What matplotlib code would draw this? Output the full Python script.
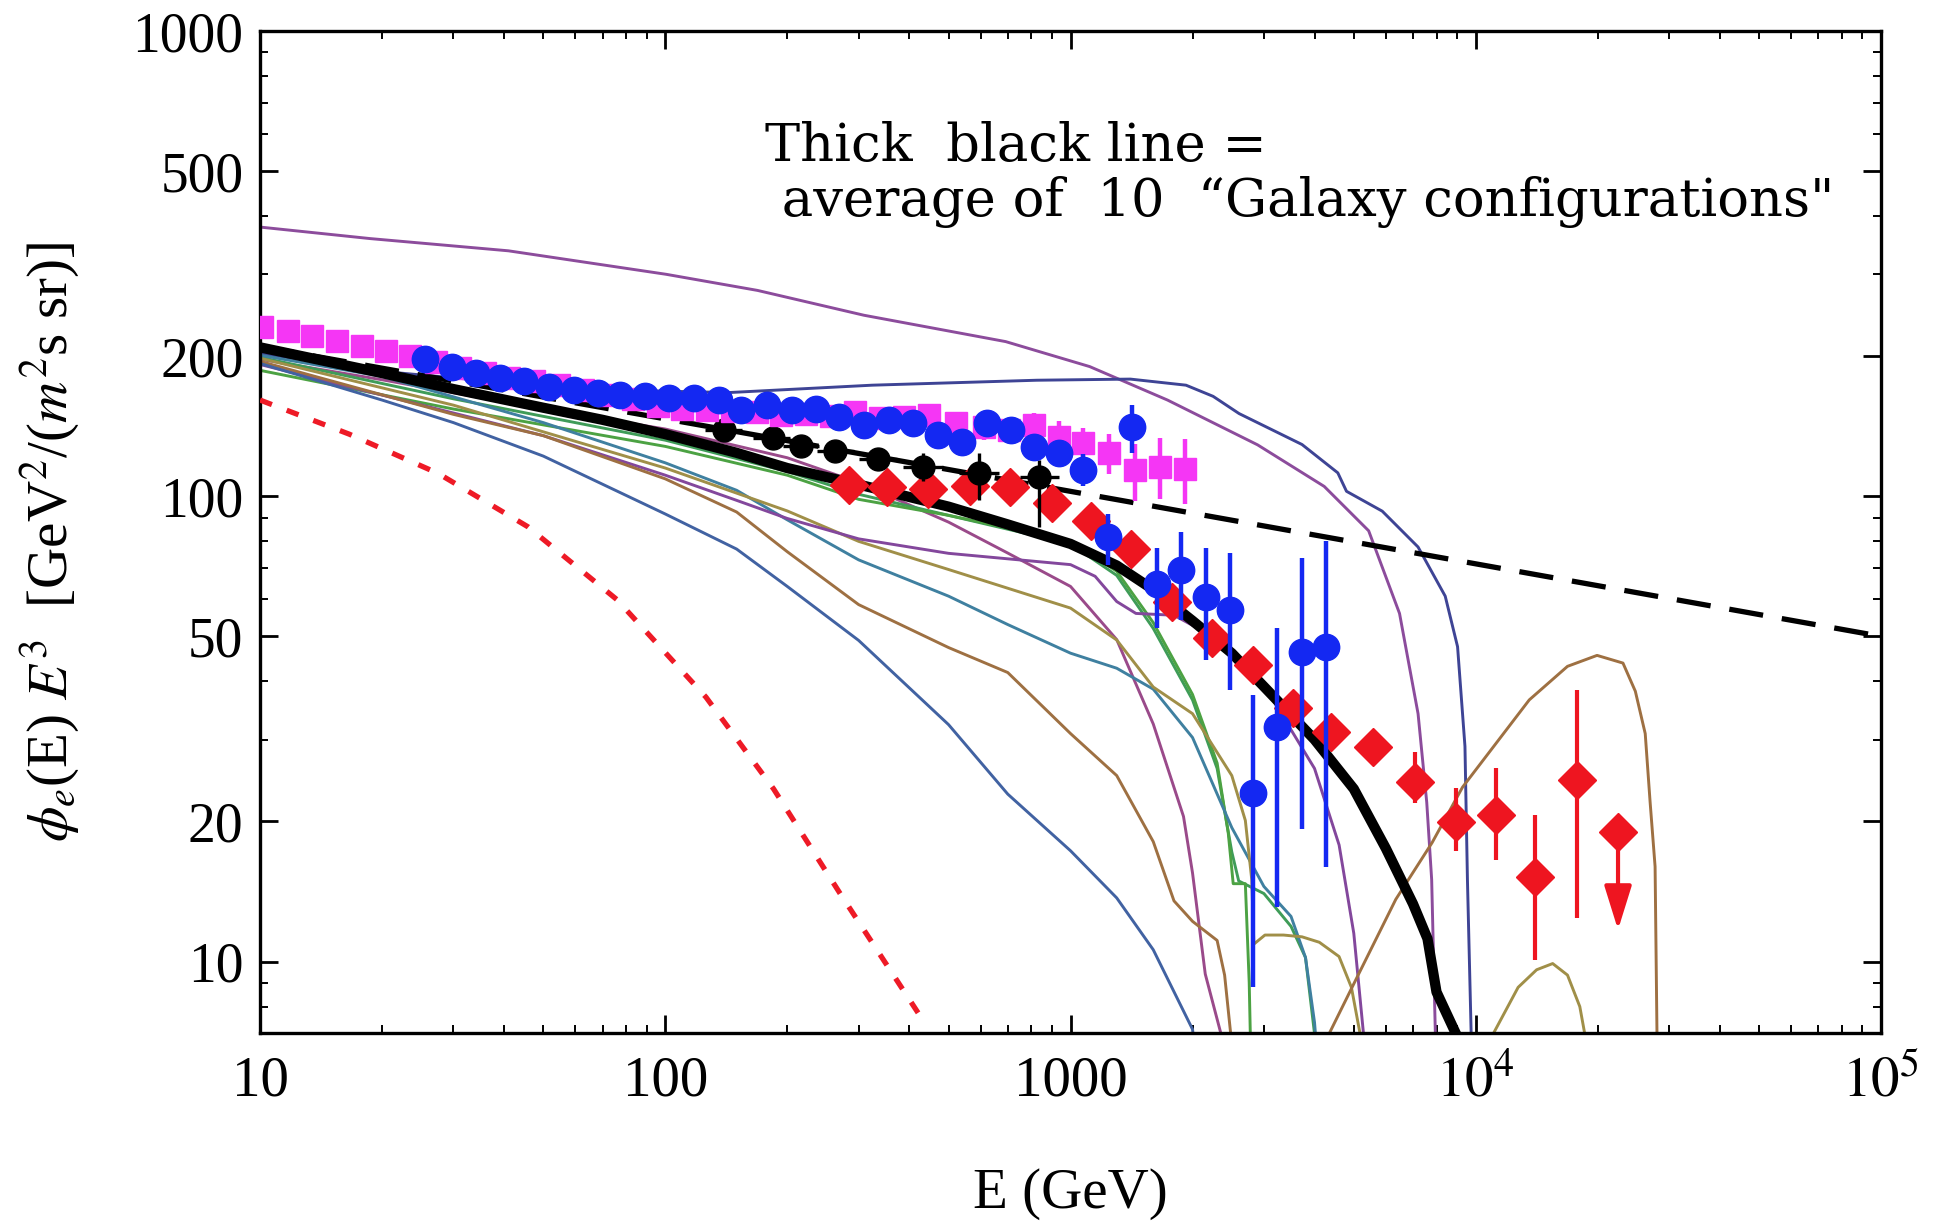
import numpy as np
import matplotlib
matplotlib.use("Agg")
import matplotlib.pyplot as plt
from matplotlib.ticker import FixedLocator, FixedFormatter, NullFormatter

plt.rcParams["font.family"] = "serif"
plt.rcParams["font.serif"] = ["Liberation Serif", "DejaVu Serif"]
plt.rcParams["mathtext.fontset"] = "stix"

nan = np.nan

# ---------------- data ----------------
# power-law reference (thick dashed black)
dash_E = [10, 1e5]
dash_F = [210, 50]

# red dotted curve
reddot_E = [10, 16.6, 27.5, 45.8, 75.9, 126, 185, 270, 427]
reddot_F = [161, 136, 112, 86, 60, 37, 23.5, 14, 7.6]

# average of the 10 galaxy configurations (thick black)
avg_E = [10, 20, 30, 50, 70, 100, 150, 200, 300, 500, 700, 1000, 1300, 1600, 2000,
         2500, 3000, 4000, 5000, 6000, 7000, 7600, 8000, 9000, 9500]
avg_F = [209, 184, 170, 155, 146, 136, 124, 115, 106, 95, 87, 79, 71, 63, 54,
         46, 39, 30, 23.5, 17.5, 13.3, 11.2, 8.6, 6.9, 6.0]

# ten individual galaxy configurations (thin lines)
top_purple_E = [10, 18.7, 41.0, 100.5, 168.9, 309, 692, 1115, 1735, 2894, 4227, 5441,
                6484, 7204, 7568, 7783, 7948, 8060]
top_purple_F = [379, 358, 337, 300, 277, 245, 215, 190, 161, 129, 105, 84.3,
                56.0, 34.1, 22.0, 15.0, 7.0, 5.7]

navy_E = [10, 18.7, 34.9, 75.9, 143.8, 324, 825, 1405, 1927, 2248, 2605, 3726, 4566,
          4797, 5878, 7204, 8406, 9017, 9404, 9537, 9741, 9882]
navy_F = [203, 186.5, 177.6, 169.1, 167.1, 173.3, 177.6, 178.6, 173.3, 164, 150.6, 129.2,
          112.3, 102.5, 92.9, 77.8, 61.0, 47.5, 29.0, 15.0, 7.0, 5.7]

green1_E = [10, 30, 100, 200, 300, 500, 1000, 1300, 1600, 2000, 2300, 2450, 2520,
            2700, 2760, 2800]
green1_F = [186.5, 154, 128, 111, 98.5, 91, 80, 69, 53.5, 37.5, 26.7, 18.9, 14.7,
            14.7, 9, 5]

green2_E = [10, 30, 100, 200, 300, 500, 1000, 1300, 1600, 2000, 2300, 2500, 2600,
            3000, 3500, 3800, 4000, 4100]
green2_F = [199, 162, 132, 113, 101, 91, 79, 67.6, 52, 36.5, 26, 17.2, 14.9,
            14.0, 11.9, 10.2, 7.0, 5]

teal_E = [10, 20, 50, 100, 150, 200, 300, 500, 700, 1000, 1300, 1600, 2000, 2500,
          3000, 3500, 3800, 4000, 4150]
teal_F = [201, 181, 144, 118, 103, 89, 73, 61, 53, 46, 42.7, 38.5, 30.3, 19.4,
          14.5, 12.5, 10.2, 7.4, 5]

olive_E = [10, 30, 100, 200, 300, 500, 1000, 1300, 1600, 2000, 2500, 2700, 2800, 2834,
           3018, 3354, 3726, 4111, 4598, 4933, 5181, 5291, nan,
           10670, 11050, 12720, 14130, 15480, 16840, 18060, 18570, 18840]
olive_F = [198, 157, 115, 93, 80, 69.6, 57.5, 49.1, 38.9, 34.1, 25.1, 20.1, 15.0, 10.9,
           11.4, 11.4, 11.3, 11.0, 10.25, 8.8, 7.0, 5.7, nan,
           5.7, 7.0, 8.8, 9.6, 9.9, 9.35, 8.0, 7.0, 5.7]

brown_E = [10, 30, 50, 100, 150, 200, 300, 500, 700, 1000, 1300, 1600, 1800, 2000,
           2300, 2400, 2530, nan,
           4257, 4348, 5109, 6347, 7800, 9275, 13550, 16840, 19920, 23080, 24760,
           26190, 26930, 27700, 28000, 28100]
brown_F = [195, 150, 135, 109, 92.5, 76, 58.5, 47.3, 41.8, 30.9, 25.1, 18.1, 13.5, 12.2,
           11.1, 9.35, 6.0, nan,
           5.7, 7.0, 9.3, 13.6, 18.0, 23.7, 36.5, 43.1, 45.5, 43.8, 38.1,
           30.9, 22.0, 16.0, 7.0, 5.7]

steel_E = [10, 20, 30, 50, 100, 150, 200, 300, 500, 700, 1000, 1300, 1600, 2000, 2100]
steel_F = [193, 161, 144, 122, 91.6, 77, 64, 49, 32.3, 22.9, 17.3, 13.7, 10.6, 7.15, 5]

purple_a_E = [10, 30, 50, 100, 150, 200, 300, 500, 1000, 1150, 1300, 1450, 1800, 2300,
              3000, 4000, 4600, 5000, 5300, 5400]
purple_a_F = [192, 151, 135, 111, 98, 89.6, 81, 75.4, 71.3, 67.3, 59.4, 56, 55.5, 49.4,
              39.3, 26, 17.8, 11.5, 6.8, 5]

purple_b_E = [10, 20, 50, 100, 200, 300, 500, 700, 1000, 1300, 1600, 1900, 2000, 2150,
              2350, 2420]
purple_b_F = [197, 178, 154, 139.5, 121, 107, 88, 75.5, 64, 49.2, 32.4, 20.5, 15.5, 9.4,
              7.0, 5]

# magenta squares
mag_E = [10.1, 11.7, 13.4, 15.5, 17.8, 20.5, 23.5, 27.1, 31.2, 35.9, 41.2, 47.5, 54.6,
         62.8, 72.3, 83.2, 95.7, 110, 127, 146, 168, 193, 222, 256, 294, 338, 389, 448,
         523, 610, 706, 812, 934, 1075, 1245, 1445, 1663, 1913]
mag_F = [230.9, 226.6, 221.2, 215.8, 210.7, 205.6, 200.6, 194.6, 188.7, 184.2, 179.7,
         176.5, 173.3, 169.1, 165.0, 162.0, 156.2, 154.3, 153.4, 152.4, 151.5, 149.6,
         150.6, 148.8, 151.5, 147.0, 147.9, 149.6, 143.4, 140.8, 139.1, 142.5, 134.1,
         130.0, 123.8, 113.7, 115.8, 114.4]
mag_relerr = [0.03, 0.03, 0.03, 0.03, 0.03, 0.03, 0.03, 0.03, 0.03, 0.03, 0.03, 0.03,
              0.03, 0.03, 0.03, 0.03, 0.03, 0.03, 0.03, 0.03, 0.03, 0.03, 0.04, 0.04,
              0.04, 0.04, 0.04, 0.04, 0.06, 0.06, 0.06, 0.06, 0.08, 0.08, 0.10, 0.14,
              0.15, 0.16]

# blue circles
blue_E = [25.6, 29.7, 34.1, 39.0, 44.9, 51.6, 59.4, 68.4, 77.5, 89.2, 102, 117.6, 135.6,
          154, 178, 205, 236, 269, 310, 357, 409, 470, 541, 623, 715, 813, 934, 1074,
          1234, 1415, 1632, 1874, 2156, 2475, 2814, 3234, 3723, 4272]
blue_F = [197, 190, 184, 180, 176.5, 172, 169, 167, 165, 164, 162.5, 162.5, 161,
          153, 157, 153, 154, 148, 142, 145.8, 143.4, 135.3, 130.8, 143.4, 138.8, 127.7,
          123.6, 113.8, 81.8, 141, 64.9, 69.4, 60.8, 56.9, 23.0, 31.9, 46.3, 47.5]
blue_lo = [193, 186, 180, 176, 173, 169, 166, 164, 162, 161, 159, 159, 158,
           148, 152, 148, 149, 144, 138, 141, 136, 129, 124, 136, 132, 121,
           116, 105, 71.0, 123.8, 52.0, 54.2, 44.4, 38.3, 8.8, 13.1, 19.3, 16.0]
blue_hi = [201, 194, 188, 184, 180, 175, 172, 170, 168, 167, 166, 166, 164,
           158, 162, 158, 159, 152, 146, 150, 151, 142, 137, 151, 146, 134,
           131, 123, 91.8, 157, 77.4, 83.9, 77.4, 75.5, 37.4, 52.0, 73.7, 80.3]

# black circles
blk_E = [139.8, 184, 216, 263, 334, 432, 593, 836]
blk_F = [139, 133.3, 128.5, 125.3, 120.4, 115.8, 112, 110]
blk_lo = [135, 129, 124, 120, 114, 108, 98.2, 85.9]
blk_hi = [143, 137.5, 133, 131, 127, 124, 123.8, 119.5]
blk_Elo = [125, 165, 195, 237, 300, 385, 530, 750]
blk_Ehi = [155, 203, 240, 292, 372, 485, 665, 935]

# red diamonds (last one is an upper limit)
red_E = [284, 353, 444, 565, 707, 900, 1125, 1413, 1784, 2240, 2814, 3539, 4390, 5583,
         7089, 8937, 11223, 14030, 17810, 22440]
red_F = [105.7, 104.8, 103.9, 105, 104.8, 96.5, 88.5, 76.9, 59.3, 49.5, 43.3, 35.0,
         31.2, 28.9, 24.3, 19.9, 20.6, 15.2, 24.5, 19.0]
red_lo = [101.5, 100.6, 99.7, 100.8, 100.6, 92.6, 85, 73.8, 56.9, 47.5, 41.6, 33.6,
          29.6, 27.2, 21.9, 17.3, 16.5, 10.1, 12.4, 19.0]
red_hi = [110, 109, 108, 109, 109, 100.4, 92, 80, 61.7, 51.5, 45, 36.4,
          33.4, 30.9, 28.2, 23.6, 26.1, 20.6, 38.3, 19.0]
red_limit_tip = 11.7

# axis ticks
x_major = [10, 100, 1000, 1e4, 1e5]
x_major_labels = ["10", "100", "1000", r"$10^4$", r"$10^5$"]
y_major = [10, 20, 50, 100, 200, 500, 1000]
y_major_labels = ["10", "20", "50", "100", "200", "500", "1000"]
y_minor = [7, 8, 9, 30, 40, 60, 70, 80, 90, 300, 400, 600, 700, 800, 900]
x_minor = [20, 30, 40, 50, 60, 70, 80, 90, 200, 300, 400, 500, 600, 700, 800, 900,
           2000, 3000, 4000, 5000, 6000, 7000, 8000, 9000,
           2e4, 3e4, 4e4, 5e4, 6e4, 7e4, 8e4, 9e4]

# ---------------- figure ----------------
fig = plt.figure(figsize=(19.35, 12.27), dpi=100)
ax = fig.add_axes([0.1344, 0.1581, 0.8377, 0.8166])
ax.set_xscale("log")
ax.set_yscale("log")

thin_curves = [
    (top_purple_E, top_purple_F, "#8c4c9c"),
    (navy_E, navy_F, "#3e4495"),
    (purple_b_E, purple_b_F, "#9a4a8a"),
    (green2_E, green2_F, "#3f9c58"),
    (green1_E, green1_F, "#4ca243"),
    (teal_E, teal_F, "#3f80a0"),
    (olive_E, olive_F, "#a08f48"),
    (purple_a_E, purple_a_F, "#83479c"),
    (brown_E, brown_F, "#9e7042"),
    (steel_E, steel_F, "#4162a2"),
]
for E, F, c in thin_curves:
    ax.plot(E, F, color=c, lw=2.1, zorder=2, solid_joinstyle="round")

ax.plot(reddot_E, reddot_F, color="#ee1a26", lw=3.8, dashes=(2.4, 3.0), zorder=3)
ax.plot(dash_E, dash_F, color="black", lw=3.8, dashes=(6.5, 3.6), zorder=3)
ax.plot(avg_E, avg_F, color="black", lw=7.4, zorder=3, solid_capstyle="butt",
        solid_joinstyle="round")

# red diamonds
redc = "#ee1520"
rF = np.array(red_F)
ax.errorbar(red_E, red_F, yerr=[rF - np.array(red_lo), np.array(red_hi) - rF],
            fmt="D", ms=19.5, color=redc, mec=redc, ecolor=redc, elinewidth=3.0,
            capsize=0, zorder=4)
ax.annotate("", xy=(red_E[-1], red_limit_tip), xytext=(red_E[-1], red_F[-1]),
            arrowprops=dict(arrowstyle="-|>,head_length=0.45,head_width=0.14",
                            color=redc, lw=3.0, shrinkA=0, shrinkB=0,
                            mutation_scale=60), zorder=4)

# black circles
bF = np.array(blk_F)
bE = np.array(blk_E)
ax.errorbar(blk_E, blk_F, yerr=[bF - np.array(blk_lo), np.array(blk_hi) - bF],
            xerr=[bE - np.array(blk_Elo), np.array(blk_Ehi) - bE],
            fmt="o", ms=16.5, color="black", ecolor="black", elinewidth=2.4,
            capsize=0, zorder=5)

# magenta squares
magc = "#f536f5"
mF = np.array(mag_F)
mr = np.array(mag_relerr)
ax.errorbar(mag_E, mag_F, yerr=[mF * mr, mF * mr], fmt="s", ms=16.5, color=magc,
            mec=magc, ecolor=magc, elinewidth=3.2, capsize=0, zorder=6)

# blue circles
bluec = "#1428f2"
blF = np.array(blue_F)
ax.errorbar(blue_E, blue_F, yerr=[blF - np.array(blue_lo), np.array(blue_hi) - blF],
            fmt="o", ms=19, color=bluec, mec=bluec, ecolor=bluec, elinewidth=3.2,
            capsize=0, zorder=7)

ax.set_xlim(10, 1e5)
ax.set_ylim(7.02, 1000)

ax.xaxis.set_major_locator(FixedLocator(x_major))
ax.xaxis.set_major_formatter(FixedFormatter(x_major_labels))
ax.xaxis.set_minor_locator(FixedLocator(x_minor))
ax.xaxis.set_minor_formatter(NullFormatter())
ax.yaxis.set_major_locator(FixedLocator(y_major))
ax.yaxis.set_major_formatter(FixedFormatter(y_major_labels))
ax.yaxis.set_minor_locator(FixedLocator(y_minor))
ax.yaxis.set_minor_formatter(NullFormatter())

ax.tick_params(which="both", direction="in", top=True, right=True)
ax.tick_params(which="major", length=13, width=2.0)
ax.tick_params(which="minor", length=6, width=1.4)
ax.tick_params(axis="x", which="major", labelsize=41, pad=16)
ax.tick_params(axis="y", which="major", labelsize=40, pad=12)
for s in ax.spines.values():
    s.set_linewidth(2.4)

ax.set_xlabel("E (GeV)", fontsize=41)
ax.xaxis.set_label_coords(0.5, -0.135)
ax.set_ylabel(r"$\phi_e$(E) $E^3$  [GeV$^2$/($m^2$s sr)]", fontsize=41)
ax.yaxis.set_label_coords(-0.11, 0.49)

ax.text(0.3115, 0.857,
        "Thick  black line =\n average of  10  \u201cGalaxy configurations\"",
        transform=ax.transAxes, fontsize=38, family="DejaVu Serif",
        ha="left", va="center", linespacing=1.1, zorder=8)

fig.savefig("out.png", dpi=100)
